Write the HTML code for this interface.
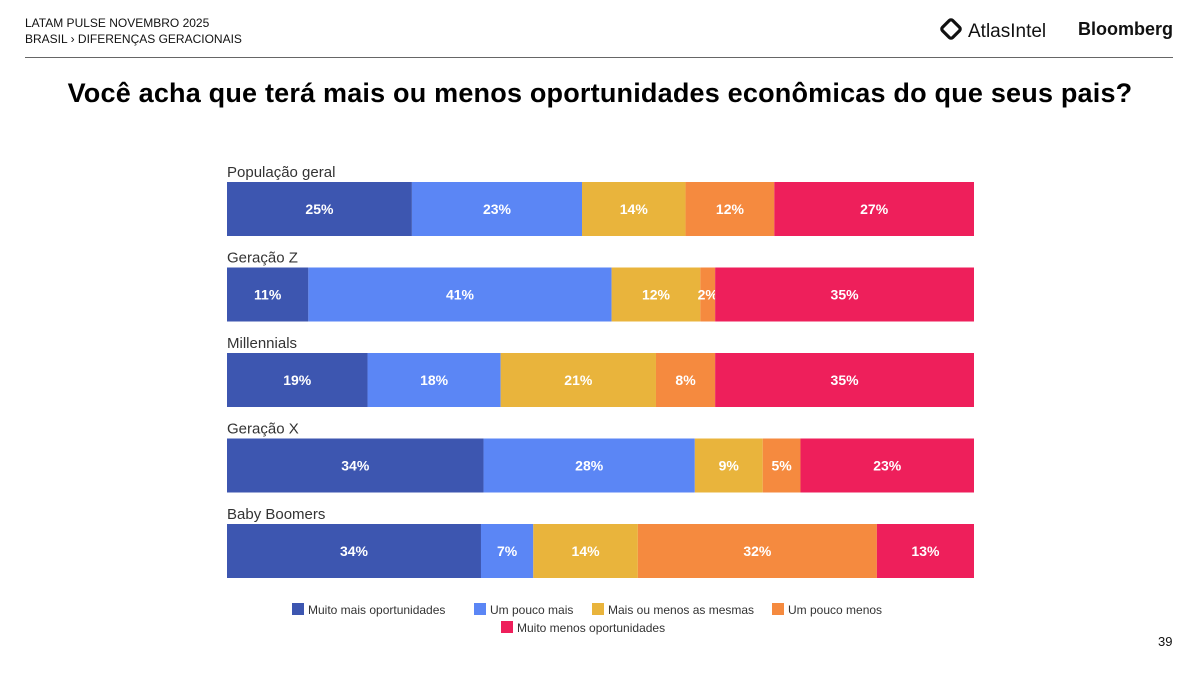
<!DOCTYPE html>
<html><head><meta charset="utf-8"><style>
body{margin:0;width:1200px;height:675px;background:#fff;font-family:"Liberation Sans",sans-serif;position:relative;overflow:hidden}
.abs{position:absolute}
</style></head><body>
<div class="abs" style="left:25px;top:16px;font-size:12px;color:#111">LATAM PULSE NOVEMBRO 2025</div>
<div class="abs" style="left:25px;top:32px;font-size:12px;color:#111">BRASIL › DIFERENÇAS GERACIONAIS</div>
<div class="abs" style="left:940px;top:18px;font-size:19px;color:#111"><span style="display:inline-block;width:14px;height:14px;border:4px solid #111;border-radius:5px;transform:rotate(45deg) scale(.8);vertical-align:-3px;margin-right:6px"></span>AtlasIntel</div>
<div class="abs" style="left:1078px;top:19px;font-size:18px;font-weight:bold;color:#111">Bloomberg</div>
<div class="abs" style="left:25px;top:57px;width:1148px;height:1px;background:#666"></div>
<div class="abs" style="left:0;width:1200px;top:78px;text-align:center;font-size:27px;font-weight:bold;letter-spacing:0.2px;color:#000">Você acha que terá mais ou menos oportunidades econômicas do que seus pais?</div>
<svg class="abs" style="left:0;top:0" width="1200" height="675" id="chart"></svg>
<div class="abs" style="left:1158px;top:634px;font-size:13px;color:#111">39</div>
<script>
const groups=["População geral","Geração Z","Millennials","Geração X","Baby Boomers"];
const seriesNames=["Muito mais oportunidades","Um pouco mais","Mais ou menos as mesmas","Um pouco menos","Muito menos oportunidades"];
const muitoMais=[25,11,19,34,34];
const poucoMais=[23,41,18,28,7];
const mesmas=[14,12,21,9,14];
const poucoMenos=[12,2,8,5,32];
const muitoMenos=[27,35,35,23,13];
const series=[muitoMais,poucoMais,mesmas,poucoMenos,muitoMenos];
const colors=["#3d56b0","#5b86f5","#e9b43c","#f58a3f","#ee1f5b"];
const svg=document.getElementById('chart');const NS="http://www.w3.org/2000/svg";
const x0=227,x1=974,rowY0=182,rowStep=85.5,barH=54;
function el(t,a){const e=document.createElementNS(NS,t);for(const k in a)e.setAttribute(k,a[k]);svg.appendChild(e);return e;}
groups.forEach((g,i)=>{
  const y=rowY0+i*rowStep;
  const lab=el('text',{x:x0,y:y-5,'font-size':15,fill:'#333','font-family':'Liberation Sans, sans-serif'});lab.textContent=g;
  
  
  let tot=0;series.forEach(s=>tot+=s[i]);
  let acc=0;
  series.forEach((s,j)=>{
    const xs=x0+(x1-x0)*acc/tot, w=(x1-x0)*s[i]/tot;acc+=s[i];
    const r=el('rect',{x:xs,y:y,width:w,height:barH,fill:colors[j]});
    
    
    const t=el('text',{x:xs+w/2,y:y+barH/2+5,'text-anchor':'middle','font-size':14,'font-weight':'bold',fill:'#fff','font-family':'Liberation Sans, sans-serif'});
    t.textContent=s[i]+'%';
    
    
  });
});
const legPos=[[292,609],[474,609],[592,609],[772,609],[501,627]];
seriesNames.forEach((n,j)=>{
  const [lx,ly]=legPos[j];
  const r=el('rect',{x:lx,y:ly-6,width:12,height:12,fill:colors[j]});
  
  
  const t=el('text',{x:lx+16,y:ly+5,'font-size':12,fill:'#333','font-family':'Liberation Sans, sans-serif'});t.textContent=n;
  
  
});
</script>
</body></html>
